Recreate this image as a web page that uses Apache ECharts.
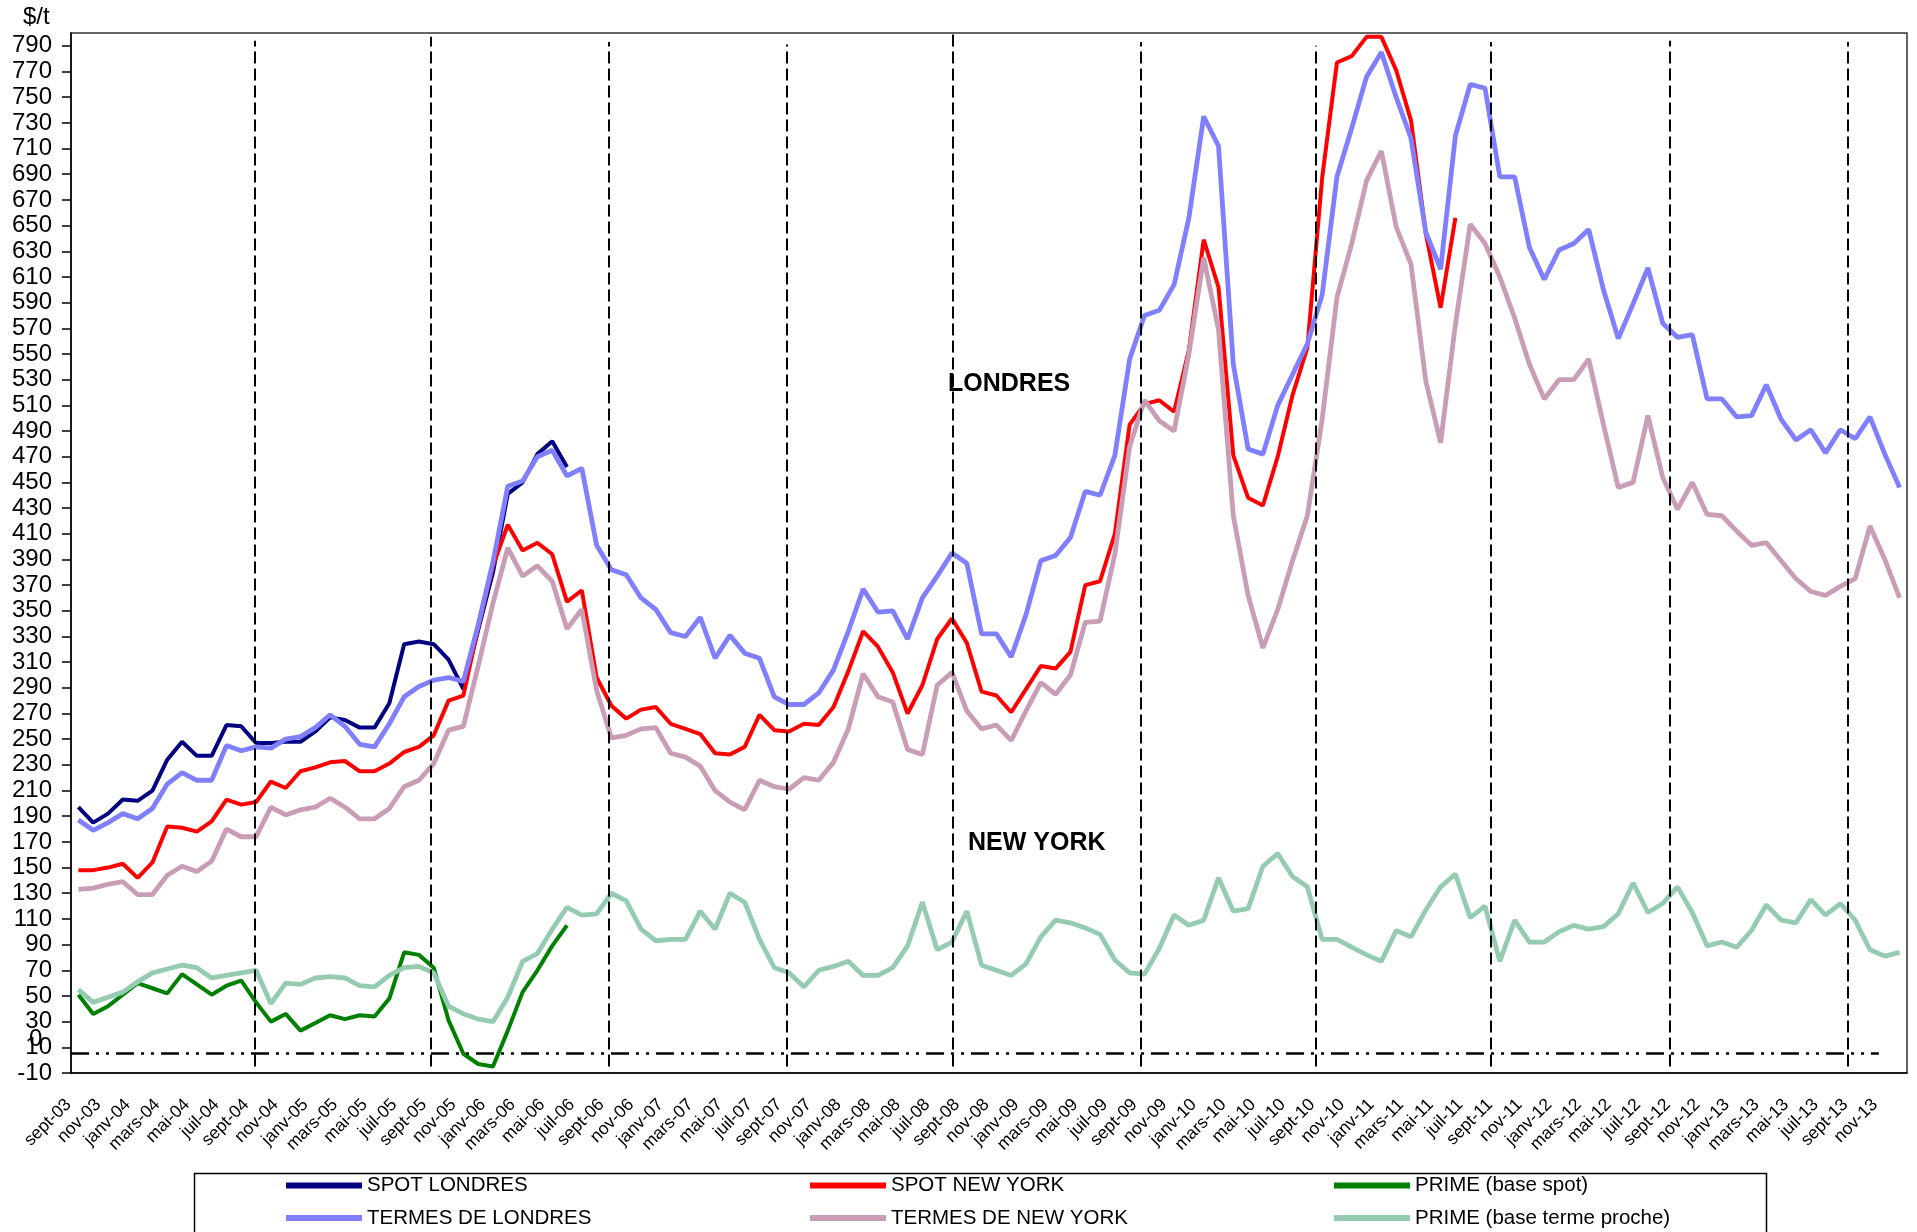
<!DOCTYPE html>
<html>
<head>
<meta charset="utf-8">
<script src="https://cdn.jsdelivr.net/npm/echarts@6/dist/echarts.min.js"></script>
<style>
html,body{margin:0;padding:0;background:#fff;}
#c{width:1917px;height:1232px;}
</style>
</head>
<body>
<div id="c"></div>
<script>
const categories = [
'sept-03','oct-03','nov-03','déc-03',
'janv-04','févr-04','mars-04','avr-04','mai-04','juin-04','juil-04','août-04','sept-04','oct-04','nov-04','déc-04',
'janv-05','févr-05','mars-05','avr-05','mai-05','juin-05','juil-05','août-05','sept-05','oct-05','nov-05','déc-05',
'janv-06','févr-06','mars-06','avr-06','mai-06','juin-06','juil-06','août-06','sept-06','oct-06','nov-06','déc-06',
'janv-07','févr-07','mars-07','avr-07','mai-07','juin-07','juil-07','août-07','sept-07','oct-07','nov-07','déc-07',
'janv-08','févr-08','mars-08','avr-08','mai-08','juin-08','juil-08','août-08','sept-08','oct-08','nov-08','déc-08',
'janv-09','févr-09','mars-09','avr-09','mai-09','juin-09','juil-09','août-09','sept-09','oct-09','nov-09','déc-09',
'janv-10','févr-10','mars-10','avr-10','mai-10','juin-10','juil-10','août-10','sept-10','oct-10','nov-10','déc-10',
'janv-11','févr-11','mars-11','avr-11','mai-11','juin-11','juil-11','août-11','sept-11','oct-11','nov-11','déc-11',
'janv-12','févr-12','mars-12','avr-12','mai-12','juin-12','juil-12','août-12','sept-12','oct-12','nov-12','déc-12',
'janv-13','févr-13','mars-13','avr-13','mai-13','juin-13','juil-13','août-13','sept-13','oct-13','nov-13','déc-13'
];

const spotLondres = [197,185,192,203,202,210,234,248,237,237,
261,260,247,247,248,248,256,267,265,259,
259,278,324,326,324,312,289,335,380,441,
450,472,482,462];

const spotNewYork = [148,148,150,153,142,154,182,181,178,186,
203,199,201,217,212,225,228,232,233,225,
225,231,240,244,253,280,284,337,385,417,
397,403,394,357,366,298,276,266,273,275,
262,258,254,239,238,244,269,257,256,262,
261,275,303,334,322,302,270,292,328,344,
325,287,284,271,289,307,305,318,370,373,
410,495,511,514,505,553,639,602,471,438,
432,470,518,555,687,777,782,797,797,771,
732,644,586,656];

const primeSpot = [51,36,42,51,60,56,52,67,59,51,
58,62,45,30,36,23,29,35,32,35,
34,48,84,82,72,31,5,-3,-5,23,
53,70,89,105];

const termesLondres = [187,179,185,192,188,196,215,224,218,218,
245,241,244,243,250,252,259,269,260,246,
244,262,283,291,296,298,295,339,388,447,
451,470,475,455,461,401,382,378,360,351,
333,330,345,313,331,317,313,283,277,277,
286,304,334,367,349,350,328,360,377,395,
387,332,332,314,347,389,393,407,443,440,
471,546,580,584,604,656,735,712,542,476,
472,510,534,558,596,688,726,766,785,750,
718,645,616,720,760,757,688,688,633,608,
631,636,647,600,562,589,617,574,563,565,
515,515,501,502,526,499,483,491,473,491,
484,501,472,446];

const termesNewYork = [133,134,137,139,129,129,144,151,147,155,
180,174,174,197,191,195,197,204,197,188,
188,196,213,218,231,257,260,307,356,399,
377,385,373,336,351,288,251,253,258,259,
239,236,229,210,201,195,218,213,211,220,
218,232,258,301,283,279,242,238,292,302,
272,258,261,249,272,294,285,300,341,342,
394,478,514,498,490,550,625,569,424,362,
321,351,389,424,499,594,636,685,708,649,
620,529,481,573,651,636,610,578,542,515,
530,530,546,495,446,450,502,454,429,450,
425,424,412,401,403,389,375,365,362,369,
375,416,390,360];

const primeTerme = [55,45,49,53,61,68,71,74,72,64,
66,68,70,44,60,59,64,65,64,58,
57,66,72,73,68,42,36,32,30,49,
77,83,102,119,113,114,130,124,102,93,
94,94,116,102,130,123,94,72,68,57,
70,73,77,66,66,72,89,123,86,92,
116,74,70,66,75,96,109,107,103,98,
78,68,67,87,113,105,109,142,116,118,
151,161,143,135,94,94,88,82,77,101,
96,117,135,145,111,120,77,109,92,92,
100,105,102,104,114,138,115,122,135,115,
89,92,88,101,121,109,107,125,113,122,
109,86,81,84];

const yTicks = [-10,10,30,50,70,90,110,130,150,170,190,210,230,250,270,290,310,330,350,370,
390,410,430,450,470,490,510,530,550,570,590,610,630,650,670,690,710,730,750,770,790];

// vertical separators (position in month-index units) and their top value
const separatorPos = [11.9, 23.8, 35.85, 47.85, 59.07, 71.75, 83.55, 95.37, 107.5, 119.53];
const separatorTop = [794, 797, 793, 791, 800, 793, 790, 793, 794, 793];
const separatorBottom = -5;
const zeroLine = {value: 5, from: -0.5, to: 121.6};

const FONT = "'Liberation Sans', Arial, Helvetica, sans-serif";
const chart = echarts.init(document.getElementById('c'));

function lineSeries(name, data, color, width) {
  return {
    name: name, type: 'line', data: data,
    symbol: 'none', showSymbol: false,
    lineStyle: {color: color, width: width},
    itemStyle: {color: color},
    emphasis: {disabled: true},
    animation: false
  };
}

function refSeries(name, lines, dash, width) {
  return {
    name: name, type: 'line', xAxisIndex: 1, yAxisIndex: 0,
    data: [[0, -10]], symbol: 'none', showSymbol: false,
    lineStyle: {opacity: 0}, silent: true, clip: false, z: 5,
    markLine: {
      silent: true, symbol: ['none', 'none'], animation: false,
      label: {show: false},
      lineStyle: {color: '#000', width: width, type: dash, opacity: 1, cap: 'butt'},
      emphasis: {disabled: true},
      data: lines
    }
  };
}

const sepData = separatorPos.map((p, k) => [
  {coord: [p, separatorBottom]},
  {coord: [p, separatorTop[k]]}
]);
const zeroData = [[
  {coord: [zeroLine.from, zeroLine.value]},
  {coord: [zeroLine.to, zeroLine.value]}
]];

function legendCol(left, names) {
  return {
    orient: 'vertical', left: left, top: 1175,
    data: names, icon: 'rect', itemWidth: 76, itemHeight: 6, itemGap: 11.5,
    selectedMode: false, padding: 0,
    textStyle: {fontSize: 20.5, fontFamily: FONT, color: '#000', lineHeight: 21}
  };
}

const option = {
  animation: false,
  backgroundColor: '#fff',
  grid: {left: 71, right: 10, top: 33, bottom: 159, show: true, borderColor: '#333', borderWidth: 1.5, containLabel: false},
  xAxis: [{
    type: 'category', data: categories, boundaryGap: true,
    axisLine: {onZero: false, lineStyle: {color: '#000', width: 1.5}},
    axisTick: {interval: 1, length: 8, lineStyle: {color: '#000', width: 1.5}},
    axisLabel: {interval: 1, rotate: 45, fontSize: 17.5, fontFamily: FONT, color: '#000', margin: 19, padding: [0, 14, 0, 0]},
    splitLine: {show: false}
  }, {
    type: 'value', min: -0.5, max: 123.5, show: false, axisLine: {onZero: false}
  }],
  yAxis: {
    type: 'value', min: -10, max: 800, interval: 20,
    axisLine: {show: true, onZero: false, lineStyle: {color: '#000', width: 1.5}},
    axisTick: {show: true, length: 9, customValues: yTicks, lineStyle: {color: '#000', width: 1.5}},
    axisLabel: {customValues: yTicks, fontSize: 24, fontFamily: FONT, color: '#000', margin: 19},
    splitLine: {show: false}
  },
  legend: [
    legendCol(286, ['SPOT LONDRES', 'TERMES DE LONDRES']),
    legendCol(810, ['SPOT NEW YORK', 'TERMES DE NEW YORK']),
    legendCol(1334, ['PRIME (base spot)', 'PRIME (base terme proche)'])
  ],
  graphic: [
    {type: 'text', left: 23, top: 5, style: {text: '$/t', fontSize: 24, fontFamily: FONT, fill: '#000'}},
    {type: 'text', left: 29, top: 1027, style: {text: '0', fontSize: 24, fontFamily: FONT, fill: '#000'}},
    {type: 'text', left: 948, top: 372, style: {text: 'LONDRES', fontSize: 25, fontWeight: 'bold', fontFamily: FONT, fill: '#000'}},
    {type: 'text', left: 968, top: 831, style: {text: 'NEW YORK', fontSize: 25, fontWeight: 'bold', fontFamily: FONT, fill: '#000'}},
    {type: 'rect', left: 192, top: 1171, shape: {width: 1572, height: 90}, style: {fill: 'none', stroke: '#000', lineWidth: 1.5}, z: -1}
  ],
  series: [
    lineSeries('SPOT LONDRES', spotLondres, '#000080', 4),
    lineSeries('SPOT NEW YORK', spotNewYork, '#FF0000', 4),
    lineSeries('PRIME (base spot)', primeSpot, '#008000', 4),
    lineSeries('TERMES DE LONDRES', termesLondres, '#7F7FFF', 4.8),
    lineSeries('TERMES DE NEW YORK', termesNewYork, '#C99DB5', 4.8),
    lineSeries('PRIME (base terme proche)', primeTerme, '#95CCB1', 4.8),
    refSeries('separators', sepData, [12, 5], 2),
    refSeries('zero', zeroData, [18, 7, 3, 7, 3, 7], 2.5)
  ]
};
chart.setOption(option);
</script>
</body>
</html>
